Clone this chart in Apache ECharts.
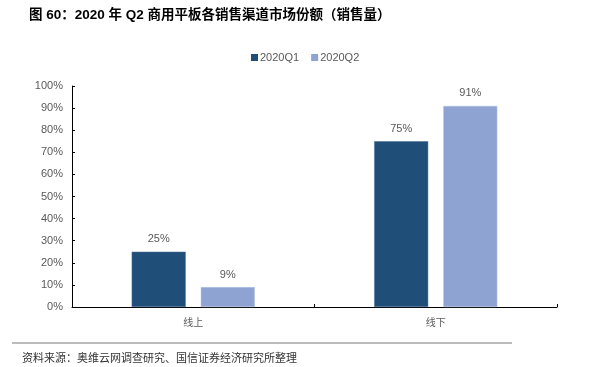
<!DOCTYPE html>
<html>
<head>
<meta charset="utf-8">
<script src="https://cdn.jsdelivr.net/npm/echarts@6/dist/echarts.min.js"></script>
<style>
  html, body { margin: 0; padding: 0; background: #fff; }
  #chart { width: 596px; height: 367px; }
</style>
</head>
<body>
<div id="chart"></div>
<script>
// 数据
const categories = ["线上", "线下"];
const q1Values = [25, 75];
const q2Values = [9, 91];
const seriesNames = ["2020Q1", "2020Q2"];

const chart = echarts.init(document.getElementById("chart"));
const labelFont = "'Liberation Sans', 'Noto Sans CJK SC', sans-serif";

const option = {
  animation: false,
  title: {
    text: "图 60：2020 年 Q2 商用平板各销售渠道市场份额（销售量）",
    left: 24,
    top: 4,
    textStyle: {
      fontSize: 13.5,
      fontWeight: "bold",
      color: "#000",
      fontFamily: "'Liberation Sans', 'Noto Sans CJK SC', sans-serif",
    },
  },
  legend: {
    data: seriesNames,
    left: 246,
    top: 47,
    itemWidth: 7,
    itemHeight: 7,
    itemGap: 12,
    icon: "rect",
    itemStyle: { borderWidth: 0 },
    textStyle: { fontSize: 11, color: "#595959", fontFamily: labelFont, padding: [0, 0, 0, -3] },
  },
  grid: {
    top: 86,
    left: 72,
    right: 39,
    bottom: 60,
  },
  xAxis: {
    type: "category",
    data: categories,
    axisLine: { lineStyle: { color: "#000", width: 1 } },
    axisTick: { show: true, inside: true, length: 3, lineStyle: { color: "#000" } },
    axisLabel: { fontSize: 10, color: "#595959", margin: 10, fontFamily: "'Noto Sans CJK SC', sans-serif" },
  },
  yAxis: {
    type: "value",
    min: 0,
    max: 100,
    interval: 10,
    axisLine: { show: true, lineStyle: { color: "#000", width: 1 } },
    axisTick: { show: true, inside: true, length: 3, lineStyle: { color: "#000" } },
    splitLine: { show: false },
    axisLabel: {
      fontSize: 11,
      color: "#595959",
      margin: 9,
      fontFamily: labelFont,
      formatter: "{value}%",
    },
  },
  series: [
    {
      name: seriesNames[0],
      type: "bar",
      data: q1Values,
      barWidth: 54,
      barGap: "28%",
      itemStyle: { color: "#1F4E79", borderColor: "#4a6f94", borderWidth: 0.5 },
      label: {
        show: true,
        position: "top",
        distance: 7,
        formatter: "{c}%",
        fontSize: 11,
        color: "#595959",
        fontFamily: labelFont,
      },
    },
    {
      name: seriesNames[1],
      type: "bar",
      data: q2Values,
      barWidth: 54,
      itemStyle: { color: "#8FA3D3", borderColor: "#b3c2e3", borderWidth: 0.5 },
      label: {
        show: true,
        position: "top",
        distance: 7,
        formatter: "{c}%",
        fontSize: 11,
        color: "#595959",
        fontFamily: labelFont,
      },
    },
  ],
  graphic: [
    {
      type: "line",
      shape: { x1: 12, y1: 343, x2: 512, y2: 343 },
      style: { stroke: "#a6a6a6", lineWidth: 1.5 },
    },
    {
      type: "text",
      left: 22,
      top: 352,
      style: {
        text: "资料来源：奥维云网调查研究、国信证券经济研究所整理",
        fontSize: 11,
        fill: "#333",
        fontFamily: "'Noto Sans CJK SC', sans-serif",
      },
    },
  ],
};

chart.setOption(option);
</script>
</body>
</html>
